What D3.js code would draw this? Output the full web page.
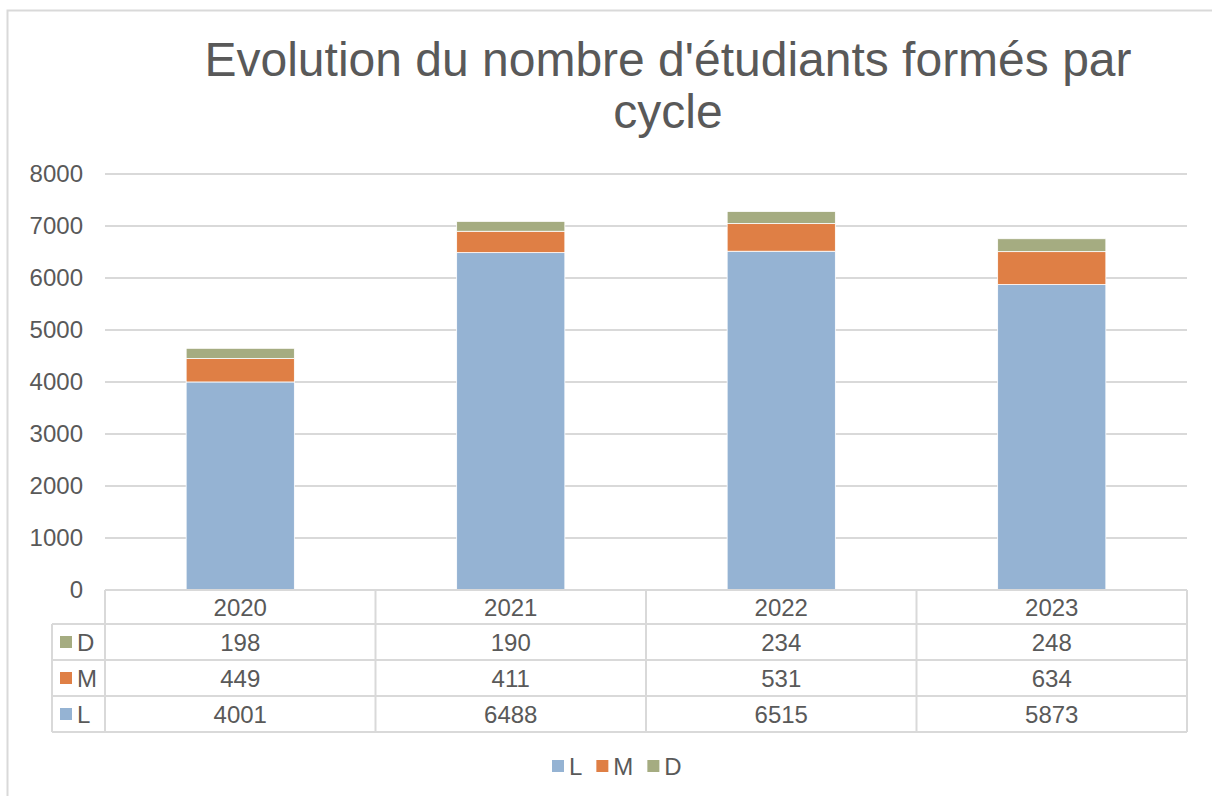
<!DOCTYPE html>
<html>
<head>
<meta charset="utf-8">
<script src="https://cdn.jsdelivr.net/npm/d3@7"></script>
<style>
  body { margin: 0; background: #fff; }
  text { font-family: "Liberation Sans", Arial, sans-serif; fill: #595959; }
</style>
</head>
<body>
<div id="chart"></div>
<script>
// Donnees
const years = ['2020', '2021', '2022', '2023'];
const valL = [4001, 6488, 6515, 5873];
const valM = [449, 411, 531, 634];
const valD = [198, 190, 234, 248];
const yTicks = [0, 1000, 2000, 3000, 4000, 5000, 6000, 7000, 8000];

const series = [
  { key: 'L', values: valL, color: '#95B3D3' },
  { key: 'M', values: valM, color: '#DF7F45' },
  { key: 'D', values: valD, color: '#A5AC81' }
];

const width = 1212;
const height = 796;
const plotLeft = 105;
const plotRight = 1187;
const plotTop = 174;
const plotBottom = 590;
const gridColor = '#D9D9D9';
const fontSize = 24;

const svg = d3.select('#chart').append('svg')
  .attr('width', width)
  .attr('height', height);

// cadre du graphique
svg.append('rect')
  .attr('x', 7.5).attr('y', 10.5)
  .attr('width', 1230).attr('height', 820)
  .attr('fill', 'none')
  .attr('stroke', gridColor)
  .attr('stroke-width', 2);

// Titre
const title = svg.append('text')
  .attr('text-anchor', 'middle')
  .attr('font-size', 48);
title.append('tspan').attr('x', 668).attr('y', 76).text("Evolution du nombre d'étudiants formés par");
title.append('tspan').attr('x', 668).attr('y', 128).text('cycle');

// Echelles
const x = d3.scaleBand().domain(years).range([plotLeft, plotRight]);
const y = d3.scaleLinear().domain([0, 8000]).range([plotBottom, plotTop]);

// grille
svg.append('g').selectAll('line')
  .data(yTicks.filter(d => d > 0))
  .enter()
  .append('line')
  .attr('x1', plotLeft).attr('x2', plotRight)
  .attr('y1', d => y(d)).attr('y2', d => y(d))
  .attr('stroke', gridColor)
  .attr('stroke-width', 2);

// axe Y
const yAxis = svg.append('g')
  .attr('transform', `translate(${plotLeft - 22}, 0)`)
  .call(d3.axisLeft(y).tickValues(yTicks).tickFormat(d3.format('d')).tickSize(0).tickPadding(0));
yAxis.select('.domain').remove();
yAxis.selectAll('text')
  .attr('font-size', fontSize)
  .attr('fill', '#595959')
  .attr('font-family', '"Liberation Sans", Arial, sans-serif');

// barres empilees
const stackData = years.map((yr, i) => ({ year: yr, L: valL[i], M: valM[i], D: valD[i] }));
const stacked = d3.stack().keys(series.map(s => s.key))(stackData);
const barW = x.bandwidth() * 0.4;

svg.append('g').selectAll('g')
  .data(stacked)
  .enter()
  .append('g')
  .attr('fill', (d, i) => series[i].color)
  .selectAll('rect')
  .data(d => d)
  .enter()
  .append('rect')
  .attr('x', d => x(d.data.year) + (x.bandwidth() - barW) / 2)
  .attr('y', d => y(d[1]))
  .attr('width', barW)
  .attr('height', d => y(d[0]) - y(d[1]))
  .attr('stroke', '#fff')
  .attr('stroke-width', 0.8);

// Tableau de donnees
const headerH = 34;
const rowH = 36;
const tableLeft = 52;
const tableRows = [series[2], series[1], series[0]];
const table = svg.append('g');

// lignes horizontales
const hLines = [plotBottom, plotBottom + headerH];
tableRows.forEach((r, i) => hLines.push(plotBottom + headerH + rowH * (i + 1)));
table.selectAll('.hline')
  .data(hLines)
  .enter()
  .append('line')
  .attr('x1', (d, i) => i === 0 ? plotLeft : tableLeft)
  .attr('x2', plotRight)
  .attr('y1', d => d).attr('y2', d => d)
  .attr('stroke', gridColor).attr('stroke-width', 2);

// lignes verticales
const tableBottom = plotBottom + headerH + rowH * tableRows.length;
const vLines = years.map(yr => x(yr)).concat([plotRight]);
table.selectAll('.vline')
  .data(vLines)
  .enter()
  .append('line')
  .attr('x1', d => d).attr('x2', d => d)
  .attr('y1', plotBottom).attr('y2', tableBottom)
  .attr('stroke', gridColor).attr('stroke-width', 2);
table.append('line')
  .attr('x1', tableLeft).attr('x2', tableLeft)
  .attr('y1', plotBottom + headerH).attr('y2', tableBottom)
  .attr('stroke', gridColor).attr('stroke-width', 2);

// en-tete
table.selectAll('.head')
  .data(years)
  .enter()
  .append('text')
  .attr('x', d => x(d) + x.bandwidth() / 2)
  .attr('y', plotBottom + headerH / 2)
  .attr('dy', '0.36em')
  .attr('text-anchor', 'middle')
  .attr('font-size', fontSize)
  .text(d => d);

tableRows.forEach((s, r) => {
  const cy = plotBottom + headerH + rowH * r + rowH / 2;
  table.append('rect')
    .attr('x', 60).attr('y', cy - 6)
    .attr('width', 12).attr('height', 12)
    .attr('fill', s.color);
  table.append('text')
    .attr('x', 77).attr('y', cy).attr('dy', '0.36em')
    .attr('font-size', fontSize)
    .text(s.key);
  table.selectAll('.v' + s.key)
    .data(s.values)
    .enter()
    .append('text')
    .attr('x', (d, i) => x(years[i]) + x.bandwidth() / 2)
    .attr('y', cy)
    .attr('dy', '0.36em')
    .attr('text-anchor', 'middle')
    .attr('font-size', fontSize)
    .text(d => d);
});

// Legende
const legend = svg.append('g');
let lx = 552;
series.forEach(s => {
  legend.append('rect')
    .attr('x', lx).attr('y', 760)
    .attr('width', 12).attr('height', 12)
    .attr('fill', s.color);
  const t = legend.append('text')
    .attr('x', lx + 17).attr('y', 766).attr('dy', '0.36em')
    .attr('font-size', fontSize)
    .text(s.key);
  lx += 17 + t.node().getComputedTextLength() + 14;
});
</script>
</body>
</html>
